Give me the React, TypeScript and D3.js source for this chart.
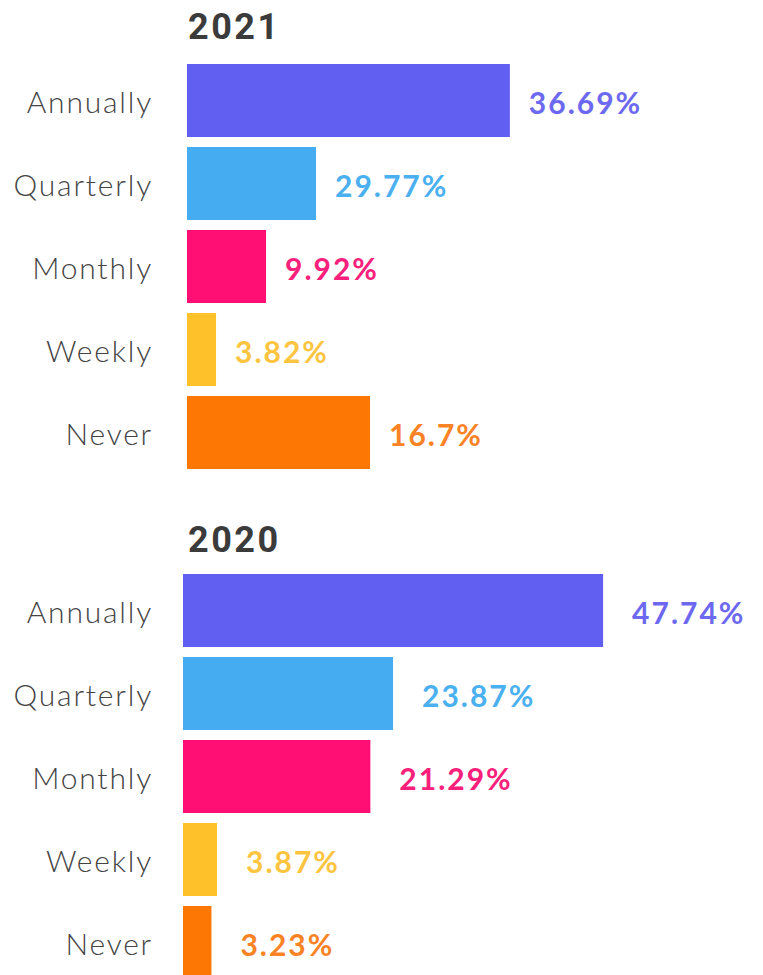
import React from 'react';
import * as d3 from 'd3';

const categories = ['Annually', 'Quarterly', 'Monthly', 'Weekly', 'Never'];

// values printed next to the bars
const labels2021 = [36.69, 29.77, 9.92, 3.82, 16.7];
const labels2020 = [47.74, 23.87, 21.29, 3.87, 3.23];

// bar lengths as drawn in the picture (2021 bars do not follow their labels)
const bars2021 = [36.69, 14.66, 8.98, 3.3, 20.8];
const bars2020 = [47.74, 23.87, 21.29, 3.87, 3.23];

const barColors = ['#615ef2', '#45acf2', '#ff0f73', '#ffc12a', '#fc7703'];
const textColors = ['#6c68ef', '#4bb0f0', '#f8207a', '#fdc53f', '#fb8326'];

const W = 763;
const H = 975;

interface PanelProps {
  title: string;
  titleY: number;
  bars: number[];
  labels: number[];
  top: number;
  left: number;
  gap: number;
}

const Panel: React.FC<PanelProps> = ({ title, titleY, bars, labels, top, left, gap }) => {
  const x = d3.scaleLinear().domain([0, 50]).range([0, 440]);
  const y = d3
    .scaleBand<string>()
    .domain(categories)
    .range([top, top + 4 * 83 + 73])
    .paddingInner(10 / 83);

  return (
    <g>
      <text
        x={188}
        y={titleY}
        fontFamily="Roboto, sans-serif"
        fontWeight={700}
        fontSize={36}
        letterSpacing={2.5}
        fill="#3b3b3b"
      >
        {title}
      </text>
      {categories.map((c, i) => {
        const yc = y(c)! + y.bandwidth() / 2;
        return (
          <g key={c}>
            <text
              x={153}
              y={yc + 12}
              textAnchor="end"
              fontFamily="Lato, sans-serif"
              fontWeight={300}
              fontSize={30}
              letterSpacing={1.8}
              fill="#444"
            >
              {c}
            </text>
            <rect x={left} y={y(c)} width={x(bars[i])} height={y.bandwidth()} fill={barColors[i]} />
            <text
              x={left + x(bars[i]) + gap}
              y={yc + 13}
              fontFamily="Lato, sans-serif"
              fontWeight={700}
              fontSize={30}
              letterSpacing={2}
              fill={textColors[i]}
            >
              {`${labels[i]}%`}
            </text>
          </g>
        );
      })}
    </g>
  );
};

export default function App() {
  return (
    <svg
      width={W}
      height={H}
      style={{ position: 'absolute', left: 0, top: 0, background: '#fff' }}
    >
      <Panel title="2021" titleY={39} bars={bars2021} labels={labels2021} top={64} left={187} gap={19} />
      <Panel title="2020" titleY={552} bars={bars2020} labels={labels2020} top={574} left={183} gap={29} />
    </svg>
  );
}
